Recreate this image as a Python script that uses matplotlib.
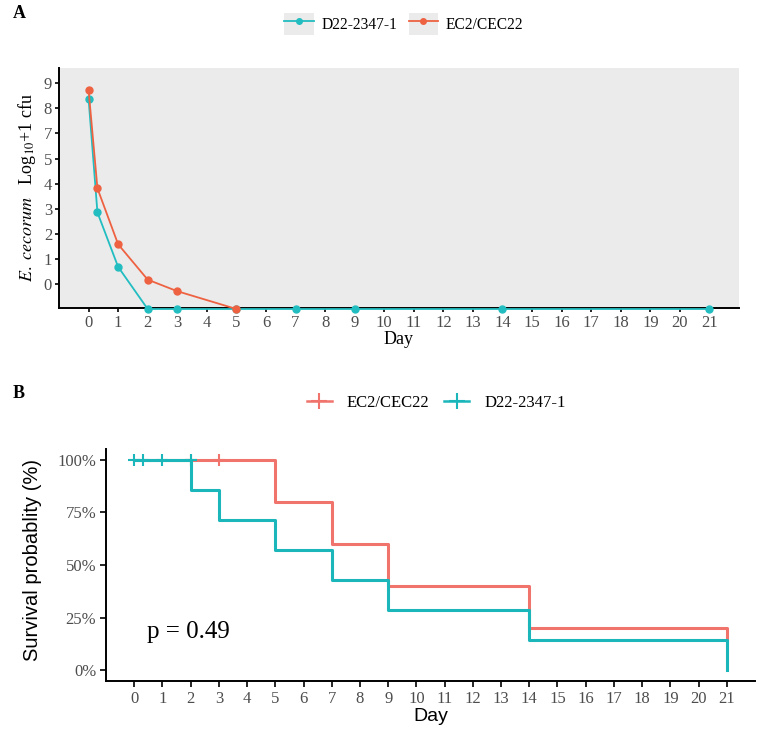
import numpy as np
import matplotlib
matplotlib.use("Agg")
import matplotlib.pyplot as plt
from matplotlib.lines import Line2D
from matplotlib.patches import Patch
from matplotlib.legend_handler import HandlerTuple

plt.rcParams['font.family'] = ['Liberation Serif', 'DejaVu Serif']
plt.rcParams['mathtext.fontset'] = 'stix'

# ---- panel A data (y in tick-position units; labels skip "6" as in source) ----
days_a = [0, 0.3, 1, 2, 3, 5, 7, 9, 14, 21]
cec22_cfu = [7.74, 3.81, 1.58, 0.17, -0.29, -1, -1, -1, -1, -1]
d22_cfu = [7.38, 2.85, 0.68, -1, -1, -1, -1, -1, -1, -1]
ytick_labels_a = ['0', '1', '2', '3', '4', '5', '7', '8', '9']

# ---- panel B data (Kaplan-Meier steps) ----
km_cec22_t = [0, 5, 7, 9, 14, 21]
km_cec22_s = [1.0, 0.8, 0.6, 0.4, 0.2, 0.143]
km_d22_t = [0, 2, 3, 5, 7, 9, 14, 21]
km_d22_s = [1.0, 0.857, 0.714, 0.571, 0.429, 0.286, 0.143, 0.0]
cens_cec22 = [2, 3]
cens_d22 = [0, 0.3, 1, 2]

orange_a = '#EE6242'
teal_a = '#22BDC0'
red_b = '#F0736C'
teal_b = '#1BB6BA'
tick_grey = '#4D4D4D'

fig = plt.figure(figsize=(7.62, 7.32), dpi=100)

# ================= panel A =================
axA = fig.add_axes([59/762, 1-308/732, 680/762, 240/732])
axA.set_facecolor('#EBEBEB')
axA.plot(days_a, d22_cfu, '-o', color=teal_a, lw=1.3, ms=5, clip_on=False, zorder=3)
axA.plot(days_a[:6], cec22_cfu[:6], '-o', color=orange_a, lw=1.3, ms=5, clip_on=False, zorder=3)
axA.set_xlim(-1, 22)
axA.set_ylim(-0.96, 8.61)
axA.set_xticks(range(0, 22))
axA.set_yticks(range(9))
axA.set_yticklabels(ytick_labels_a)
for s in ['top', 'right']:
    axA.spines[s].set_visible(False)
for s in ['left', 'bottom']:
    axA.spines[s].set_linewidth(1.4)
    axA.spines[s].set_zorder(2)
axA.tick_params(labelsize=12, labelcolor=tick_grey, length=3, width=1.2, pad=2)
axA.set_xlabel('Day', fontsize=13, labelpad=0)
axA.set_ylabel(r'$\it{E.\ cecorum}$   Log$_{10}$+1 cfu', fontsize=13, labelpad=4)

keybg = '#EBEBEB'
handlesA = [(Patch(facecolor=keybg, edgecolor='none'),
             Line2D([], [], color=teal_a, marker='o', ms=4, lw=1.3)),
            (Patch(facecolor=keybg, edgecolor='none'),
             Line2D([], [], color=orange_a, marker='o', ms=4, lw=1.3))]
fig.legend(handlesA, ['D22-2347-1', 'EC2/CEC22'], loc='center',
           bbox_to_anchor=(404/762, 1-24/732), ncol=2, frameon=False,
           fontsize=11.2, handlelength=1.9, handleheight=1.8, columnspacing=0.7,
           handletextpad=0.5, handler_map={tuple: HandlerTuple(ndivide=1)})
fig.text(13/762, 1-14/732, 'A', fontsize=13, fontweight='bold', va='center')

# ================= panel B =================
axB = fig.add_axes([106/762, 1-681/732, 649/762, 232/732])
axB.step(km_cec22_t, km_cec22_s, where='post', color=red_b, lw=2.2, zorder=2)
axB.step(km_d22_t, km_d22_s, where='post', color=teal_b, lw=2.2, zorder=3)
axB.plot(cens_cec22, [1.0] * len(cens_cec22), '+', color=red_b, ms=9, mew=1.5, zorder=2)
axB.plot(cens_d22, [1.0] * len(cens_d22), '+', color=teal_b, ms=9, mew=1.5, zorder=3)
axB.set_xlim(-1, 22)
axB.set_ylim(-0.052, 1.052)
axB.set_xticks(range(0, 22))
axB.set_yticks([0, 0.25, 0.5, 0.75, 1.0])
axB.set_yticklabels(['0%', '25%', '50%', '75%', '100%'])
for s in ['top', 'right']:
    axB.spines[s].set_visible(False)
for s in ['left', 'bottom']:
    axB.spines[s].set_linewidth(1.4)
axB.tick_params(labelsize=12, labelcolor=tick_grey, length=4, width=1.2, pad=3)
axB.set_xlabel('Day', fontsize=14, family='Liberation Sans', labelpad=1)
axB.set_ylabel('Survival probablity (%)', fontsize=14.5, family='Liberation Sans')
axB.yaxis.set_label_coords(-0.099, 0.52)
axB.text(0.45, 0.18, 'p = 0.49', fontsize=18, va='center')

handlesB = [Line2D([], [], color=red_b, marker='+', ms=11, mew=1.5, lw=1.8),
            Line2D([], [], color=teal_b, marker='+', ms=11, mew=1.5, lw=1.8)]
fig.legend(handlesB, ['EC2/CEC22', 'D22-2347-1'], loc='center',
           bbox_to_anchor=(436/762, 1-403/732), ncol=2, frameon=False,
           fontsize=12, handlelength=1.5, columnspacing=0.9, handletextpad=0.9)
fig.text(13/762, 1-393/732, 'B', fontsize=13, fontweight='bold', va='center')

fig.savefig('out.png', dpi=100)
